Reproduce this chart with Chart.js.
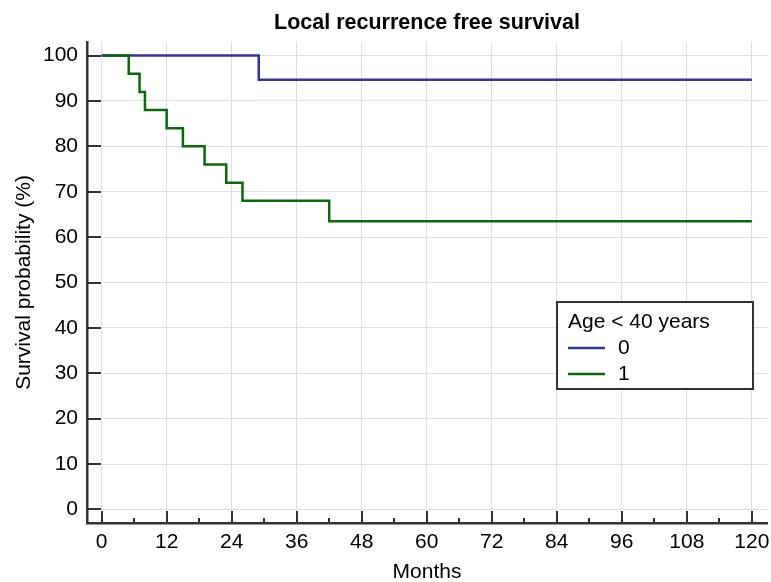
<!DOCTYPE html>
<html>
<head>
<meta charset="utf-8">
<script src="https://cdn.jsdelivr.net/npm/chart.js@4.4.1/dist/chart.umd.min.js"></script>
<style>
  html, body { margin: 0; padding: 0; background: #fff; }
  canvas { display: block; }
</style>
</head>
<body>
<canvas id="kmChart" width="771" height="582"></canvas>
<script>
// Kaplan-Meier steps
const monthsAge0 = [0, 29, 120];
const survAge0 = [100, 94.7, 94.7];
const monthsAge1 = [0, 5, 7, 8, 12, 15, 19, 23, 26, 42, 120];
const survAge1 = [100, 96, 92, 88, 84, 80, 76, 72, 68, 63.5, 63.5];

const groupLabels = ['0', '1'];
const groupColors = ['#333399', '#0a6a0a'];
const legendTitle = 'Age < 40 years';
const chartTitle = 'Local recurrence free survival';

const xTicks = [0, 12, 24, 36, 48, 60, 72, 84, 96, 108, 120];
const xMinorTicks = [6, 18, 30, 42, 54, 66, 78, 90, 102, 114];
const yTicks = [0, 10, 20, 30, 40, 50, 60, 70, 80, 90, 100];

const FONT = "'Liberation Sans', Arial, sans-serif";
const AXIS = '#333333';

const toPoints = (xs, ys) => xs.map((x, i) => ({ x: x, y: ys[i] }));

// title centred over the plot area, inside ticks, and the boxed legend
const extras = {
  id: 'extras',
  afterDraw(chart) {
    const ctx = chart.ctx;
    const area = chart.chartArea;
    const xs = chart.scales.x, ys = chart.scales.y;
    ctx.save();

    ctx.fillStyle = '#000';
    ctx.font = 'bold 21.5px ' + FONT;
    ctx.textAlign = 'center';
    ctx.textBaseline = 'middle';
    ctx.fillText(chartTitle, (area.left + area.right) / 2, 23);

    ctx.strokeStyle = AXIS;
    ctx.lineWidth = 2;
    ctx.beginPath();
    xTicks.forEach(v => {
      const px = Math.round(xs.getPixelForValue(v));
      ctx.moveTo(px, area.bottom); ctx.lineTo(px, area.bottom - 12);
    });
    xMinorTicks.forEach(v => {
      const px = Math.round(xs.getPixelForValue(v));
      ctx.moveTo(px, area.bottom); ctx.lineTo(px, area.bottom - 5);
    });
    yTicks.forEach(v => {
      const py = Math.round(ys.getPixelForValue(v));
      ctx.moveTo(area.left, py); ctx.lineTo(area.left + 14, py);
    });
    ctx.stroke();

    // legend box
    const bx = 557, by = 302, bw = 196, bh = 87;
    ctx.fillStyle = '#fff';
    ctx.fillRect(bx, by, bw, bh);
    ctx.lineWidth = 2;
    ctx.strokeStyle = AXIS;
    ctx.strokeRect(bx, by, bw, bh);
    ctx.fillStyle = '#000';
    ctx.font = '21px ' + FONT;
    ctx.textAlign = 'left';
    ctx.fillText(legendTitle, 568, 322);
    groupLabels.forEach((lab, i) => {
      const ly = 348 + i * 26;
      ctx.strokeStyle = groupColors[i];
      ctx.lineWidth = 2.5;
      ctx.beginPath();
      ctx.moveTo(568, ly); ctx.lineTo(605, ly);
      ctx.stroke();
      ctx.fillStyle = '#000';
      ctx.fillText(lab, 618, ly);
    });
    ctx.restore();
  }
};

const ctx = document.getElementById('kmChart').getContext('2d');
new Chart(ctx, {
  type: 'line',
  data: {
    datasets: [
      {
        label: groupLabels[0],
        data: toPoints(monthsAge0, survAge0),
        borderColor: groupColors[0],
        borderWidth: 2.5,
        stepped: true,
        pointRadius: 0,
        fill: false,
        order: 1
      },
      {
        label: groupLabels[1],
        data: toPoints(monthsAge1, survAge1),
        borderColor: groupColors[1],
        borderWidth: 2.5,
        stepped: true,
        pointRadius: 0,
        fill: false,
        order: 0
      }
    ]
  },
  options: {
    responsive: false,
    animation: false,
    layout: { padding: { top: 42, right: 4, left: 0, bottom: 0 } },
    plugins: {
      legend: { display: false },
      title: { display: false },
      tooltip: { enabled: false }
    },
    scales: {
      x: {
        type: 'linear',
        min: -2.7,
        max: 122.8,
        afterBuildTicks: s => { s.ticks = xTicks.map(v => ({ value: v })); },
        afterFit: s => { s.height = 59; s.paddingLeft = 0; s.paddingRight = 0; },
        grid: { color: '#dedede', lineWidth: 1, drawTicks: false },
        border: { color: AXIS, width: 2.5 },
        ticks: { color: '#000', font: { family: FONT, size: 21 }, padding: 7, maxRotation: 0, autoSkip: false },
        title: { display: true, text: 'Months', color: '#000', font: { family: FONT, size: 21, lineHeight: 0.9 }, padding: 0 }
      },
      y: {
        type: 'linear',
        min: -3,
        max: 103,
        afterBuildTicks: s => { s.ticks = yTicks.map(v => ({ value: v })); },
        afterFit: s => { s.width = 87; s.paddingTop = 0; s.paddingBottom = 0; },
        grid: { color: '#dedede', lineWidth: 1, drawTicks: false },
        border: { color: AXIS, width: 2.5 },
        ticks: { color: '#000', font: { family: FONT, size: 21 }, padding: 9, autoSkip: false },
        title: { display: true, text: 'Survival probability (%)', color: '#000', font: { family: FONT, size: 21 }, padding: { top: 12, bottom: 0 } }
      }
    }
  },
  plugins: [extras]
});
</script>
</body>
</html>
